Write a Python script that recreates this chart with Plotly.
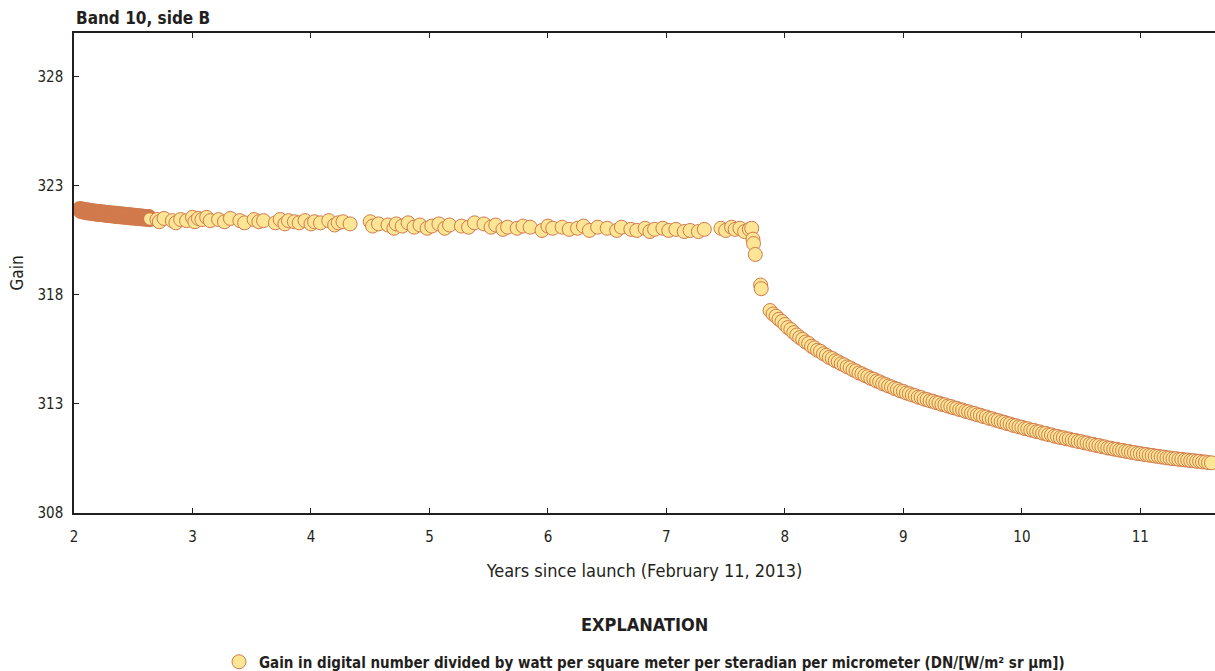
import plotly.graph_objects as go

# ---- data ----
# early dense segment
x_early = [2.05, 2.06, 2.07, 2.08, 2.09, 2.10, 2.11, 2.12, 2.13, 2.14, 2.15, 2.16, 2.17, 2.18, 2.19,
           2.20, 2.21, 2.22, 2.23, 2.24, 2.25, 2.26, 2.27, 2.28, 2.29, 2.30, 2.31, 2.32, 2.33, 2.34,
           2.35, 2.36, 2.37, 2.38, 2.39, 2.40, 2.41, 2.42, 2.43, 2.44, 2.45, 2.46, 2.47, 2.48, 2.49,
           2.50, 2.51, 2.52, 2.53, 2.54, 2.55, 2.56, 2.57, 2.58, 2.59, 2.60, 2.61, 2.62, 2.63, 2.64]
y_early = [321.92, 321.85, 321.90, 321.82, 321.88, 321.80, 321.86, 321.78, 321.84, 321.77,
           321.83, 321.75, 321.81, 321.74, 321.80, 321.72, 321.79, 321.71, 321.77, 321.70,
           321.76, 321.68, 321.75, 321.67, 321.74, 321.66, 321.72, 321.65, 321.71, 321.64,
           321.70, 321.62, 321.69, 321.61, 321.68, 321.60, 321.67, 321.59, 321.66, 321.58,
           321.65, 321.57, 321.63, 321.56, 321.62, 321.55, 321.61, 321.54, 321.60, 321.53,
           321.59, 321.52, 321.58, 321.51, 321.57, 321.50, 321.56, 321.49, 321.55, 321.48]

# sparse middle segment
x_mid = [2.70, 2.72, 2.76, 2.83, 2.86, 2.90, 2.95, 3.00, 3.02, 3.05, 3.08, 3.12, 3.15, 3.22, 3.27,
         3.32, 3.40, 3.44, 3.52, 3.56, 3.60, 3.70, 3.74, 3.78, 3.81, 3.86, 3.90, 3.95, 4.00, 4.03,
         4.08, 4.15, 4.20, 4.23, 4.27, 4.33, 4.50, 4.52, 4.57, 4.65, 4.70, 4.72, 4.77, 4.82, 4.87,
         4.92, 4.98, 5.02, 5.08, 5.13, 5.17, 5.27, 5.33, 5.38, 5.46, 5.52, 5.56, 5.62, 5.66, 5.74,
         5.79, 5.85, 5.95, 6.00, 6.04, 6.12, 6.18, 6.25, 6.30, 6.35, 6.42, 6.50, 6.58, 6.62, 6.70,
         6.75, 6.82, 6.86, 6.90, 6.97, 7.02, 7.08, 7.15, 7.20, 7.27, 7.32, 7.46, 7.50, 7.55, 7.58,
         7.62, 7.66, 7.70, 7.72]
y_mid = [321.45, 321.35, 321.50, 321.40, 321.30, 321.45, 321.40, 321.55, 321.35, 321.50,
         321.45, 321.55, 321.40, 321.45, 321.35, 321.50, 321.40, 321.30, 321.45, 321.35,
         321.40, 321.30, 321.45, 321.25, 321.40, 321.35, 321.30, 321.40, 321.25, 321.35,
         321.30, 321.40, 321.20, 321.30, 321.35, 321.25, 321.35, 321.15, 321.25, 321.20,
         321.05, 321.25, 321.15, 321.30, 321.10, 321.20, 321.05, 321.15, 321.25, 321.05,
         321.20, 321.15, 321.10, 321.30, 321.25, 321.10, 321.20, 321.00, 321.10, 321.05,
         321.15, 321.10, 320.95, 321.15, 321.05, 321.10, 321.00, 321.05, 321.15, 320.95,
         321.10, 321.05, 320.95, 321.10, 321.00, 320.95, 321.05, 320.90, 321.00, 321.05,
         320.95, 321.00, 320.90, 320.95, 320.90, 321.00, 321.05, 320.95, 321.10, 321.00,
         321.05, 320.90, 321.00, 321.05]

# step drop
x_drop = [7.730, 7.735, 7.750, 7.795, 7.800]
y_drop = [320.55, 320.35, 319.85, 318.45, 318.28]

# decay after the drop
x_decay = [7.875, 7.900, 7.925, 7.950, 7.975, 8.000, 8.025, 8.050, 8.075, 8.100,
           8.125, 8.150, 8.175, 8.200, 8.225, 8.250, 8.275, 8.300, 8.325, 8.350,
           8.375, 8.400, 8.425, 8.450, 8.475, 8.500, 8.525, 8.550, 8.575, 8.600,
           8.625, 8.650, 8.675, 8.700, 8.725, 8.750, 8.775, 8.800, 8.825, 8.850,
           8.875, 8.900, 8.925, 8.950, 8.975, 9.000, 9.025, 9.050, 9.075, 9.100,
           9.125, 9.150, 9.175, 9.200, 9.225, 9.250, 9.275, 9.300, 9.325, 9.350,
           9.375, 9.400, 9.425, 9.450, 9.475, 9.500, 9.525, 9.550, 9.575, 9.600,
           9.625, 9.650, 9.675, 9.700, 9.725, 9.750, 9.775, 9.800, 9.825, 9.850,
           9.875, 9.900, 9.925, 9.950, 9.975, 10.000, 10.025, 10.050, 10.075, 10.100,
           10.125, 10.150, 10.175, 10.200, 10.225, 10.250, 10.275, 10.300, 10.325, 10.350,
           10.375, 10.400, 10.425, 10.450, 10.475, 10.500, 10.525, 10.550, 10.575, 10.600,
           10.625, 10.650, 10.675, 10.700, 10.725, 10.750, 10.775, 10.800, 10.825, 10.850,
           10.875, 10.900, 10.925, 10.950, 10.975, 11.000, 11.025, 11.050, 11.075, 11.100,
           11.125, 11.150, 11.175, 11.200, 11.225, 11.250, 11.275, 11.300, 11.325, 11.350,
           11.375, 11.400, 11.425, 11.450, 11.475, 11.500, 11.525, 11.550, 11.575, 11.600]
y_decay = [317.28, 317.12, 317.02, 316.88, 316.78, 316.64, 316.50, 316.41, 316.27, 316.16,
           316.04, 315.96, 315.84, 315.77, 315.64, 315.57, 315.46, 315.41, 315.30, 315.23,
           315.13, 315.08, 314.98, 314.93, 314.84, 314.79, 314.70, 314.65, 314.56, 314.51,
           314.42, 314.38, 314.30, 314.25, 314.17, 314.13, 314.05, 314.01, 313.93, 313.89,
           313.82, 313.78, 313.71, 313.67, 313.60, 313.57, 313.50, 313.47, 313.41, 313.38,
           313.31, 313.29, 313.22, 313.20, 313.14, 313.12, 313.06, 313.04, 312.98, 312.96,
           312.90, 312.88, 312.82, 312.80, 312.74, 312.72, 312.66, 312.64, 312.58, 312.56,
           312.50, 312.48, 312.42, 312.40, 312.34, 312.32, 312.26, 312.24, 312.18, 312.16,
           312.10, 312.08, 312.02, 312.00, 311.95, 311.93, 311.87, 311.86, 311.80, 311.79,
           311.73, 311.72, 311.66, 311.65, 311.59, 311.58, 311.52, 311.51, 311.46, 311.45,
           311.40, 311.39, 311.34, 311.33, 311.28, 311.27, 311.22, 311.21, 311.16, 311.15,
           311.10, 311.09, 311.04, 311.03, 310.98, 310.97, 310.93, 310.92, 310.88, 310.87,
           310.83, 310.82, 310.78, 310.77, 310.73, 310.72, 310.69, 310.68, 310.65, 310.64,
           310.61, 310.60, 310.57, 310.56, 310.53, 310.52, 310.49, 310.49, 310.46, 310.46,
           310.43, 310.43, 310.40, 310.40, 310.37, 310.37, 310.34, 310.34, 310.31, 310.30]

x_ticks = [2, 3, 4, 5, 6, 7, 8, 9, 10, 11]
y_ticks = [308, 313, 318, 323, 328]

series_name = ("<b>Gain in digital number divided by watt per square meter per steradian "
               "per micrometer (DN/[W/m² sr µm])</b>")

FONT = "Liberation Sans Narrow, DejaVu Sans Condensed, Arial Narrow, sans-serif"
INK = "#231f20"
FILL = "#FCE594"
EDGE = "#D17A4C"

fig = go.Figure()
# dense early segment: heavily overlapping outlines read as solid orange
fig.add_trace(go.Scatter(
    x=x_early, y=y_early, mode="markers", name=series_name, showlegend=False,
    legendgroup="gain",
    marker=dict(size=14, color=FILL, line=dict(color=EDGE, width=2.5)),
))
x_rest = x_mid + x_drop + x_decay
y_rest = y_mid + y_drop + y_decay
fig.add_trace(go.Scatter(
    x=x_rest, y=y_rest, mode="markers", name=series_name, showlegend=True,
    legendgroup="gain",
    marker=dict(size=14, color=FILL, line=dict(color=EDGE, width=1)),
))

fig.update_layout(
    width=1215, height=671,
    margin=dict(l=74, r=0, t=33, b=158),
    paper_bgcolor="white", plot_bgcolor="white",
    font=dict(family=FONT, size=15, color=INK),
    showlegend=True,
    legend=dict(orientation="h", x=0.5, xanchor="center", xref="paper",
                y=0.0134, yanchor="middle", yref="container",
                font=dict(family=FONT, size=15, color=INK),
                bgcolor="rgba(0,0,0,0)", itemwidth=30),
    annotations=[
        dict(text="<b>Band 10, side B</b>", xref="paper", yref="paper", x=0, y=1,
             xanchor="left", yanchor="bottom", yshift=3, showarrow=False,
             font=dict(family=FONT, size=17, color=INK)),
        dict(text="<b>EXPLANATION</b>", xref="paper", yref="paper", x=0.5, y=-0.233,
             xanchor="center", yanchor="middle", showarrow=False,
             font=dict(family=FONT, size=18, color=INK)),
    ],
)

fig.update_xaxes(
    range=[2, 11.63], tickvals=x_ticks, ticks="inside", ticklen=5, tickwidth=1,
    tickcolor=INK, showline=True, linecolor=INK, linewidth=1.5,
    mirror="ticks", showgrid=False, zeroline=False, ticklabelstandoff=9,
    tickfont=dict(family=FONT, size=15, color=INK),
    title=dict(text="Years since launch (February 11, 2013)",
               font=dict(family=FONT, size=18, color=INK), standoff=20),
)
fig.update_yaxes(
    range=[308, 330], tickvals=y_ticks, ticks="inside", ticklen=5, tickwidth=1,
    tickcolor=INK, showline=True, linecolor=INK, linewidth=1.5,
    showgrid=False, zeroline=False, ticklabelstandoff=6,
    tickfont=dict(family=FONT, size=15, color=INK),
    title=dict(text="Gain", font=dict(family=FONT, size=17, color=INK), standoff=10),
)

fig.write_html("out.html", config={"displayModeBar": False},
               post_script="document.body.style.margin='0';")
